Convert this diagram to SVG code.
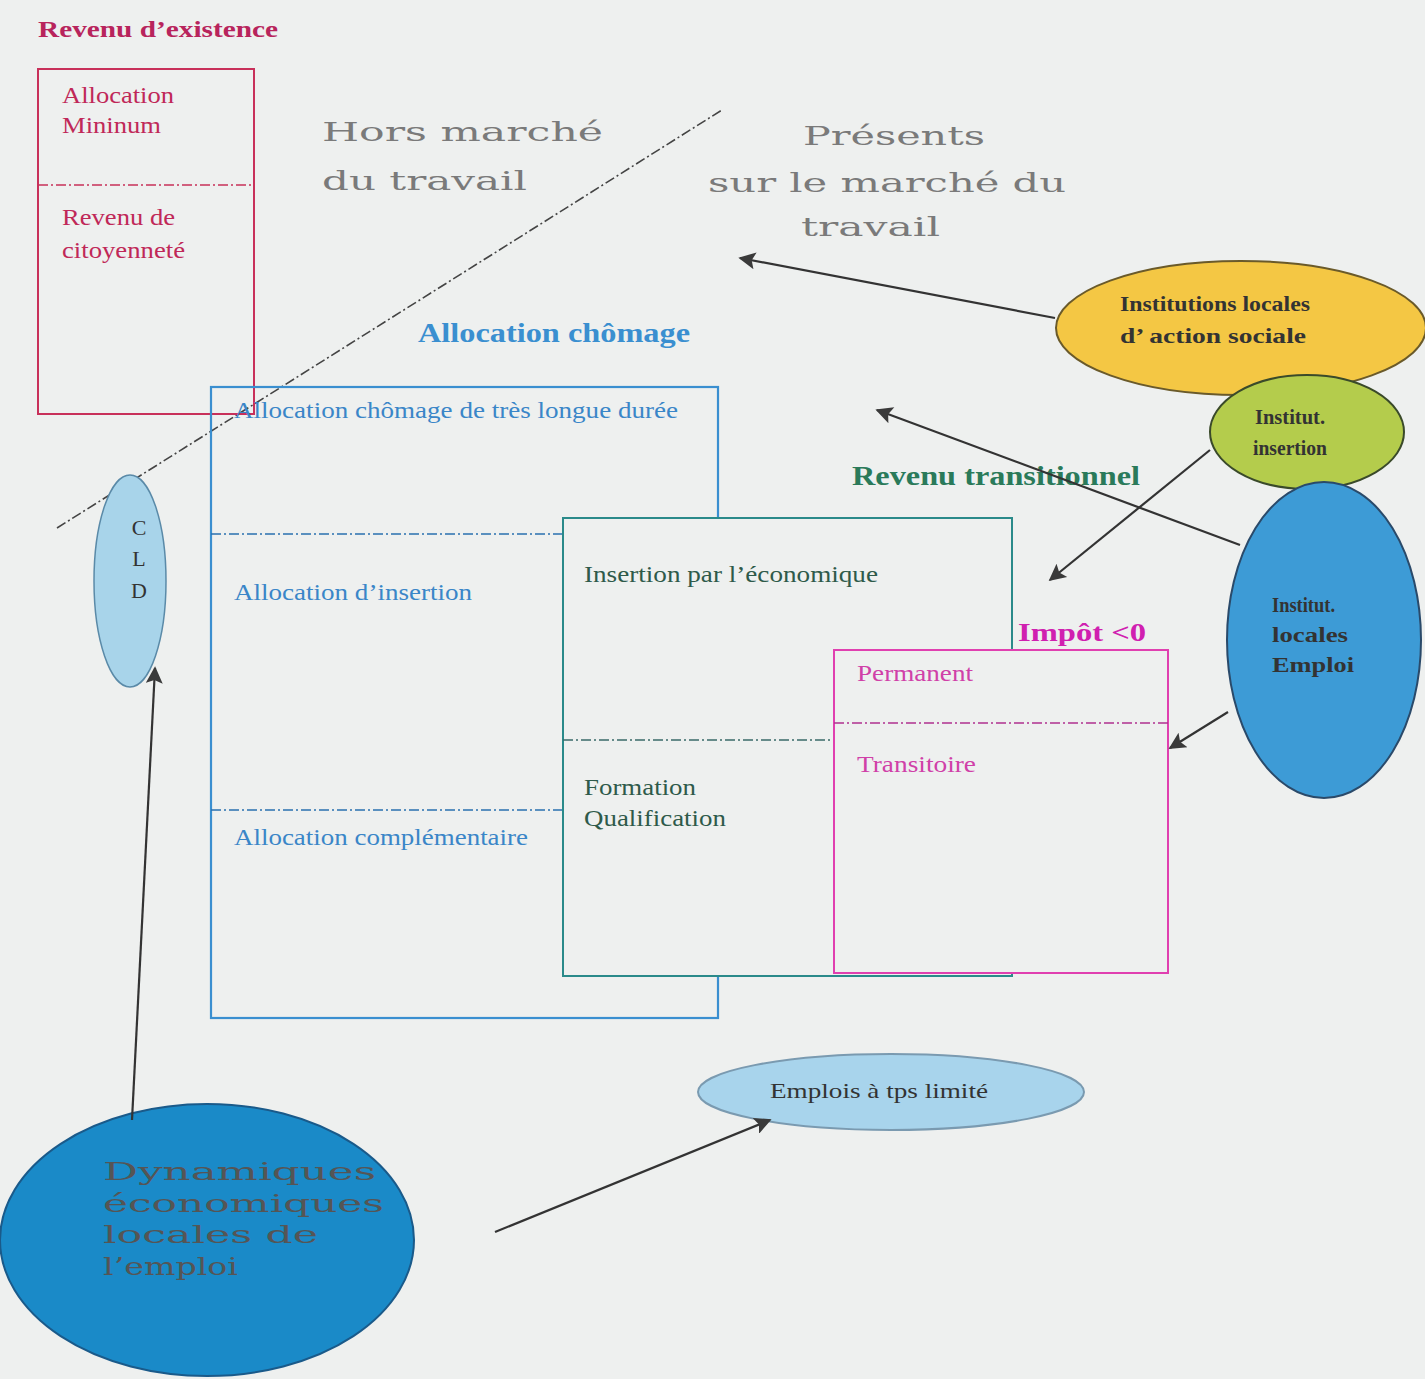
<svg xmlns="http://www.w3.org/2000/svg" width="1425" height="1379" viewBox="0 0 1425 1379">
<defs>
<marker id="ahb" viewBox="0 0 10 10" refX="9" refY="5" markerWidth="24" markerHeight="17" orient="auto" markerUnits="userSpaceOnUse">
<path d="M0,0 L10,5 L0,10 L2,5 z" fill="#3a3a3a"/>
</marker>
<style>
.serif{font-family:"Liberation Serif","Times New Roman",serif}
.wide{font-family:"DejaVu Serif",serif;fill:#7a7a7a}
.b{font-weight:bold}
.sep{stroke-dasharray:10 3 2 3;stroke-width:1.6;fill:none}
.conn{stroke:#333;stroke-width:2.2;fill:none;marker-end:url(#ahb)}
</style>
</defs>
<rect width="1425" height="1379" fill="#eef0ef"/>

<g id="diagonal">
<line x1="57" y1="528" x2="722" y2="110" stroke="#444" stroke-width="1.6" stroke-dasharray="10 3 2 3"/>
</g>

<g id="revenu-existence">
<text class="serif b" x="38" y="37" font-size="24" fill="#b8245c" textLength="240" lengthAdjust="spacingAndGlyphs">Revenu d’existence</text>
<rect x="38" y="69" width="216" height="345" fill="none" stroke="#c8305a" stroke-width="2"/>
<line class="sep" x1="38" y1="185" x2="254" y2="185" stroke="#c8305a"/>
<text class="serif" font-size="23" fill="#c02858" x="62" y="103" textLength="112" lengthAdjust="spacingAndGlyphs">Allocation</text>
<text class="serif" font-size="23" fill="#c02858" x="62" y="133" textLength="99" lengthAdjust="spacingAndGlyphs">Mininum</text>
<text class="serif" font-size="23" fill="#c02858" x="62" y="225" textLength="113" lengthAdjust="spacingAndGlyphs">Revenu de</text>
<text class="serif" font-size="23" fill="#c02858" x="62" y="258" textLength="123" lengthAdjust="spacingAndGlyphs">citoyenneté</text>
</g>

<g id="hors-marche">
<text class="wide" font-size="26" x="322" y="141" textLength="281" lengthAdjust="spacingAndGlyphs">Hors marché</text>
<text class="wide" font-size="26" x="322" y="190" textLength="205" lengthAdjust="spacingAndGlyphs">du travail</text>
</g>

<g id="presents">
<text class="wide" font-size="26" x="803" y="145" textLength="182" lengthAdjust="spacingAndGlyphs">Présents</text>
<text class="wide" font-size="26" x="708" y="192" textLength="358" lengthAdjust="spacingAndGlyphs">sur le marché du</text>
<text class="wide" font-size="26" x="801" y="236" textLength="139" lengthAdjust="spacingAndGlyphs">travail</text>
</g>

<g id="allocation-chomage">
<text class="serif b" x="418" y="342" font-size="27" fill="#3a8fd0" textLength="272" lengthAdjust="spacingAndGlyphs">Allocation chômage</text>
<rect x="211" y="387" width="507" height="631" fill="none" stroke="#3a8fd0" stroke-width="2.2"/>
<line class="sep" x1="211" y1="534" x2="563" y2="534" stroke="#2a70b0"/>
<line class="sep" x1="211" y1="810" x2="563" y2="810" stroke="#2a70b0"/>
<text class="serif" font-size="23" fill="#3a86c8" x="234" y="418" textLength="444" lengthAdjust="spacingAndGlyphs">Allocation chômage de très longue durée</text>
<text class="serif" font-size="23" fill="#3a86c8" x="234" y="600" textLength="238" lengthAdjust="spacingAndGlyphs">Allocation d’insertion</text>
<text class="serif" font-size="23" fill="#3a86c8" x="234" y="845" textLength="294" lengthAdjust="spacingAndGlyphs">Allocation complémentaire</text>
</g>

<g id="revenu-transitionnel">
<rect x="563" y="518" width="449" height="458" fill="#eef0ef" stroke="#2a8a8a" stroke-width="2"/>
<line class="sep" x1="563" y1="740" x2="834" y2="740" stroke="#3a6a6a"/>
<text class="serif b" x="852" y="485" font-size="27" fill="#2a7a5a" textLength="288" lengthAdjust="spacingAndGlyphs">Revenu transitionnel</text>
<text class="serif" font-size="23" fill="#2e5a4a" x="584" y="582" textLength="294" lengthAdjust="spacingAndGlyphs">Insertion par l’économique</text>
<text class="serif" font-size="23" fill="#2e5a4a" x="584" y="795" textLength="112" lengthAdjust="spacingAndGlyphs">Formation</text>
<text class="serif" font-size="23" fill="#2e5a4a" x="584" y="826" textLength="142" lengthAdjust="spacingAndGlyphs">Qualification</text>
</g>

<g id="impot">
<text class="serif b" x="1018" y="641" font-size="26" fill="#d020b0" textLength="128" lengthAdjust="spacingAndGlyphs">Impôt &lt;0</text>
<rect x="834" y="650" width="334" height="323" fill="#eef0ef" stroke="#e040b0" stroke-width="2"/>
<line class="sep" x1="834" y1="723" x2="1168" y2="723" stroke="#b03090"/>
<text class="serif" font-size="23" fill="#d040a8" x="857" y="681" textLength="116" lengthAdjust="spacingAndGlyphs">Permanent</text>
<text class="serif" font-size="23" fill="#d040a8" x="857" y="772" textLength="119" lengthAdjust="spacingAndGlyphs">Transitoire</text>
</g>

<g id="cld">
<ellipse cx="130" cy="581" rx="36" ry="106" fill="#a8d4ea" stroke="#5a8aa8" stroke-width="1.5"/>
<text class="serif" font-size="22" fill="#333" x="139" y="535" text-anchor="middle">C</text>
<text class="serif" font-size="22" fill="#333" x="139" y="566" text-anchor="middle">L</text>
<text class="serif" font-size="22" fill="#333" x="139" y="598" text-anchor="middle">D</text>
</g>

<g id="institutions-sociales">
<ellipse cx="1241" cy="328" rx="185" ry="67" fill="#f4c744" stroke="#6a5a2a" stroke-width="2"/>
<text class="serif b" font-size="22" fill="#333" x="1120" y="311" textLength="190" lengthAdjust="spacingAndGlyphs">Institutions locales</text>
<text class="serif b" font-size="22" fill="#333" x="1120" y="343" textLength="186" lengthAdjust="spacingAndGlyphs">d’ action sociale</text>
</g>

<g id="institut-insertion">
<ellipse cx="1307" cy="432" rx="97" ry="57" fill="#b4cc4c" stroke="#3a4a2a" stroke-width="2"/>
<text class="serif b" font-size="22" fill="#333" x="1255" y="424" textLength="70" lengthAdjust="spacingAndGlyphs">Institut.</text>
<text class="serif b" font-size="22" fill="#333" x="1253" y="455" textLength="74" lengthAdjust="spacingAndGlyphs">insertion</text>
</g>

<g id="institut-emploi">
<ellipse cx="1324" cy="640" rx="97" ry="158" fill="#3d9bd6" stroke="#2a4a6a" stroke-width="2"/>
<text class="serif b" font-size="22" fill="#333" x="1272" y="612" textLength="63" lengthAdjust="spacingAndGlyphs">Institut.</text>
<text class="serif b" font-size="22" fill="#333" x="1272" y="642" textLength="76" lengthAdjust="spacingAndGlyphs">locales</text>
<text class="serif b" font-size="22" fill="#333" x="1272" y="672" textLength="82" lengthAdjust="spacingAndGlyphs">Emploi</text>
</g>

<g id="dynamiques">
<ellipse cx="207" cy="1240" rx="207" ry="136" fill="#1a8ac8" stroke="#1a5a8a" stroke-width="2"/>
<text class="wide" font-size="25" style="fill:#555" x="103" y="1180" textLength="273" lengthAdjust="spacingAndGlyphs">Dynamiques</text>
<text class="wide" font-size="25" style="fill:#555" x="103" y="1212" textLength="281" lengthAdjust="spacingAndGlyphs">économiques</text>
<text class="wide" font-size="25" style="fill:#555" x="103" y="1243" textLength="215" lengthAdjust="spacingAndGlyphs">locales de</text>
<text class="wide" font-size="25" style="fill:#555" x="103" y="1275" textLength="135" lengthAdjust="spacingAndGlyphs">l’emploi</text>
</g>

<g id="emplois">
<ellipse cx="891" cy="1092" rx="193" ry="38" fill="#a8d4ec" stroke="#7a9ab0" stroke-width="2"/>
<text class="serif" font-size="21" fill="#333" x="770" y="1098" textLength="218" lengthAdjust="spacingAndGlyphs">Emplois à tps limité</text>
</g>

<g id="connectors">
<line class="conn" x1="1055" y1="318" x2="740" y2="258"/>
<line class="conn" x1="1240" y1="545" x2="877" y2="410"/>
<line class="conn" x1="1210" y1="450" x2="1050" y2="580"/>
<line class="conn" x1="1228" y1="712" x2="1170" y2="748"/>
<line class="conn" x1="132" y1="1120" x2="155" y2="668" stroke-width="1.6"/>
<line class="conn" x1="495" y1="1232" x2="770" y2="1120"/>
</g>
</svg>
